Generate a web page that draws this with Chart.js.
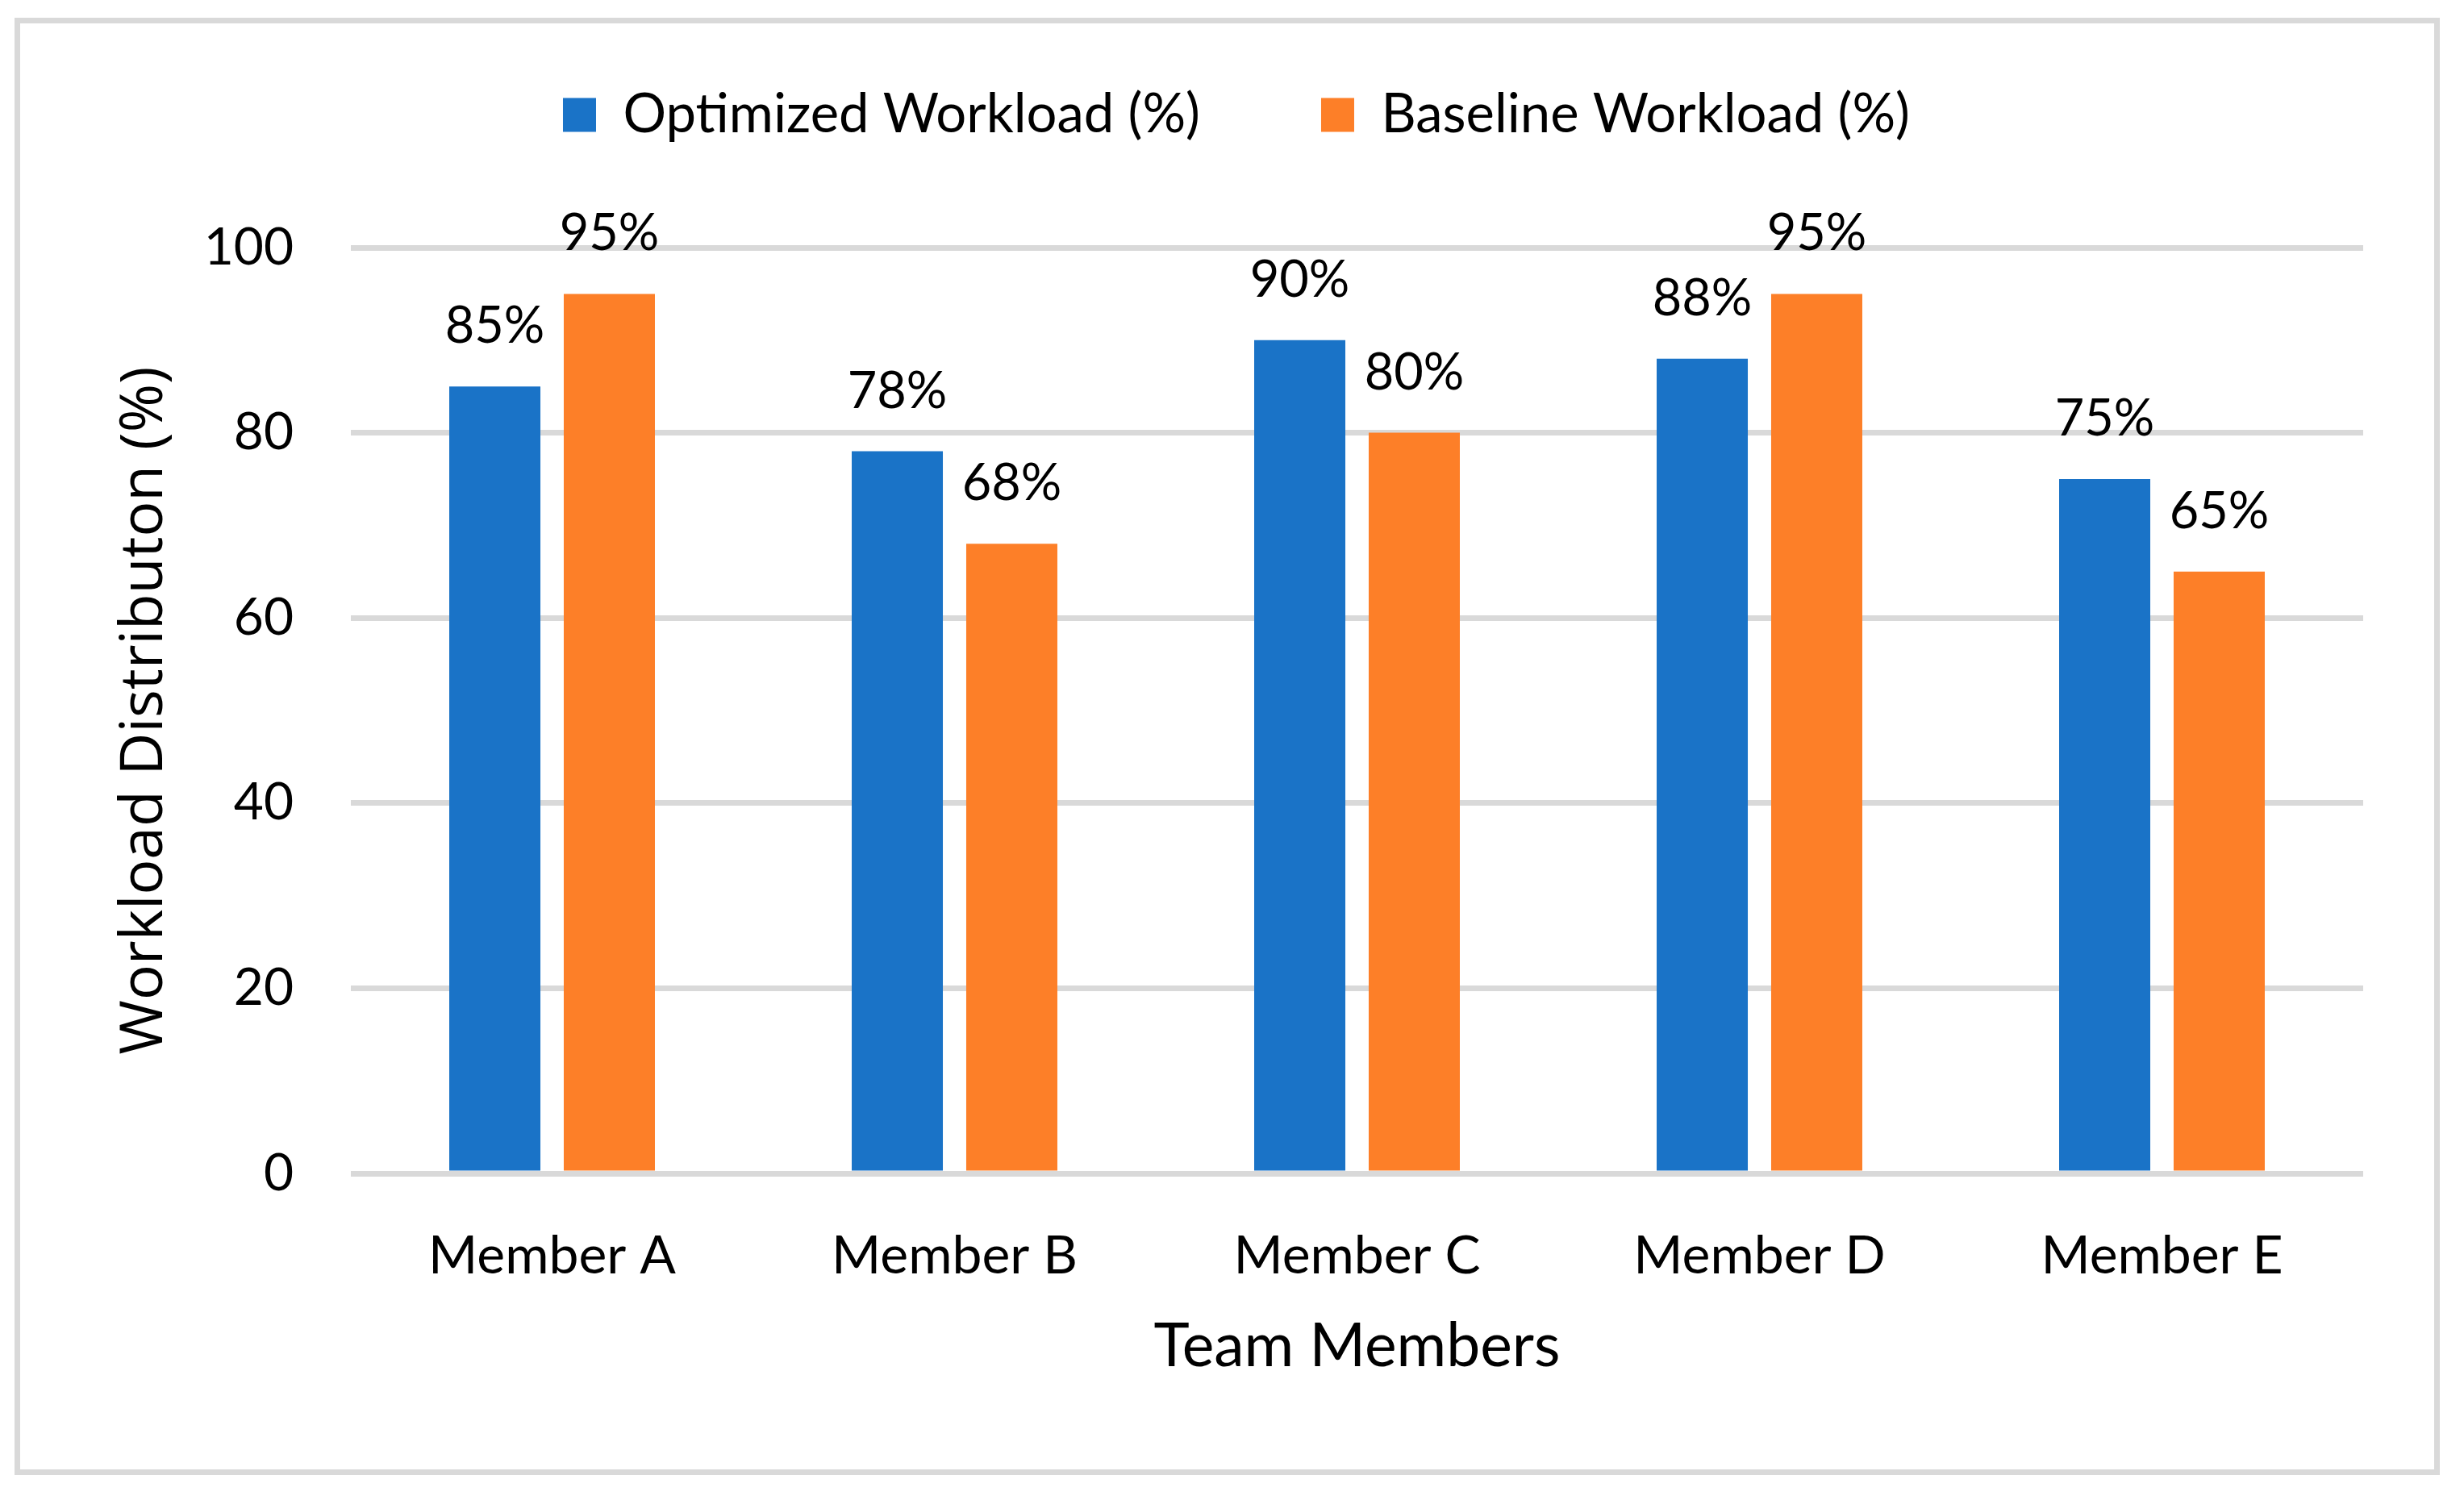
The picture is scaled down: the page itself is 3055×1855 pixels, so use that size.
<!DOCTYPE html>
<html>
<head>
<meta charset="utf-8">
<script src="https://cdn.jsdelivr.net/npm/chart.js@4.4.1/dist/chart.umd.min.js"></script>
<style>
  html, body { margin: 0; padding: 0; background: #fff; }
  #wrap { width: 3055px; height: 1855px; }
</style>
</head>
<body>
<div id="wrap"><canvas id="myChart" width="3055" height="1855"></canvas></div>
<script>
// chart values
const members = ["Member A", "Member B", "Member C", "Member D", "Member E"];
const optimizedWorkload = [85, 78, 90, 88, 75];
const baselineWorkload = [95, 68, 80, 95, 65];
const yTicks = [0, 20, 40, 60, 80, 100];

const blue = "#1a73c7";
const orange = "#fd7f28";
const gridGrey = "#d9d9d9";

// grey frame round the whole picture
const chartFrame = {
  id: "chartFrame",
  beforeDraw(chart) {
    const ctx = chart.ctx;
    ctx.save();
    ctx.fillStyle = "#fff";
    ctx.fillRect(0, 0, chart.width, chart.height);
    ctx.strokeStyle = gridGrey;
    ctx.lineWidth = 7;
    ctx.strokeRect(21.5, 25.5, 3000, 1800);
    ctx.restore();
  },
};

// "85%" etc. above each bar
const barLabels = {
  id: "barLabels",
  afterDatasetsDraw(chart) {
    const ctx = chart.ctx;
    ctx.save();
    ctx.font = "63px Lato";
    ctx.fillStyle = "#000";
    ctx.textAlign = "center";
    ctx.textBaseline = "alphabetic";
    chart.data.datasets.forEach((ds, i) => {
      chart.getDatasetMeta(i).data.forEach((bar, j) => {
        ctx.fillText(ds.data[j] + "%", bar.x, bar.y - 54);
      });
    });
    ctx.restore();
  },
};

Chart.defaults.font.family = "Lato";
Chart.defaults.color = "#000";

const workloadChart = new Chart(document.getElementById("myChart"), {
  type: "bar",
  data: {
    labels: members,
    datasets: [
      {
        label: "Optimized Workload (%)",
        data: optimizedWorkload,
        backgroundColor: blue,
        borderWidth: 0,
      },
      {
        label: "Baseline Workload (%)",
        data: baselineWorkload,
        backgroundColor: orange,
        borderWidth: 0,
      },
    ],
  },
  options: {
    responsive: false,
    animation: false,
    devicePixelRatio: 1,
    categoryPercentage: 0.569,
    barPercentage: 0.796,
    layout: {
      padding: { left: 136, right: 125, top: -41, bottom: 0 },
    },
    plugins: {
      tooltip: { enabled: false },
      legend: {
        position: "top",
        labels: {
          boxWidth: 41,
          boxHeight: 42,
          padding: 150,
          color: "#000",
          font: { family: "Lato", size: 67 },
        },
      },
      // empty title, used only as a gap between legend and plot
      title: {
        display: true,
        text: " ",
        weight: 100,
        font: { size: 10, lineHeight: 1 },
        padding: { top: 0, bottom: 111 },
      },
    },
    scales: {
      x: {
        grid: { display: false },
        border: { display: false },
        ticks: {
          autoSkip: false,
          padding: 55,
          color: "#000",
          font: { family: "Lato", size: 66 },
        },
        title: {
          display: true,
          text: "Team Members",
          color: "#000",
          font: { family: "Lato", size: 75 },
          padding: { top: 0, bottom: 140 },
        },
        afterFit(scale) {
          scale.height = 400;
        },
      },
      y: {
        min: 0,
        max: 100,
        grid: { color: gridGrey, lineWidth: 7, drawTicks: false },
        border: { display: false },
        ticks: {
          autoSkip: false,
          padding: 71,
          color: "#000",
          font: { family: "Lato", size: 64 },
        },
        afterBuildTicks(scale) {
          scale.ticks = yTicks.map((v) => ({ value: v }));
        },
        title: {
          display: true,
          text: "Workload Distributon (%)",
          color: "#000",
          font: { family: "Open Sans", size: 73 },
          padding: { top: 0, bottom: 0 },
        },
        afterFit(scale) {
          scale.width = 299;
        },
      },
    },
  },
  plugins: [chartFrame, barLabels],
});
</script>
</body>
</html>
